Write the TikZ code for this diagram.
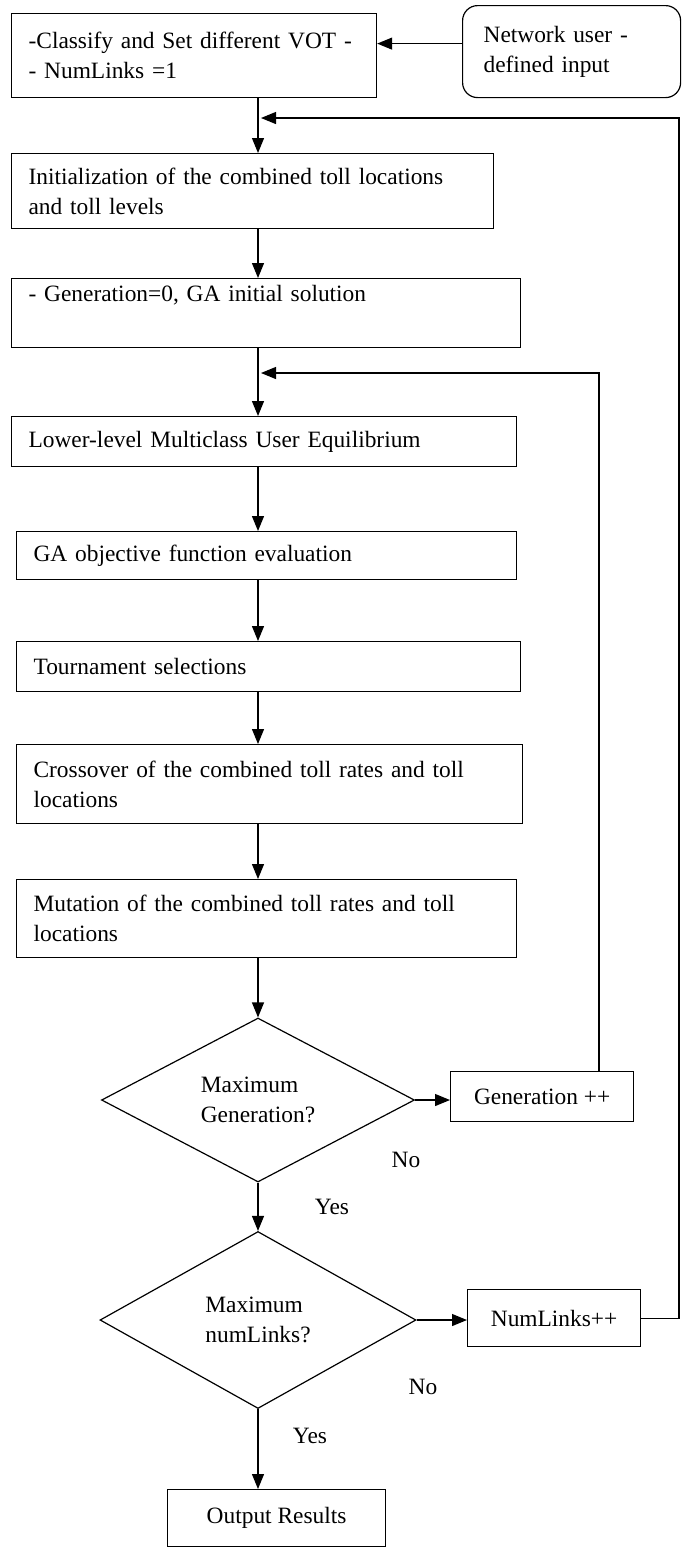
\documentclass[tikz,border=0pt]{standalone}
\usepackage{fontspec}
\setmainfont{Liberation Serif}
\usetikzlibrary{positioning,shapes,arrows.meta}

\begin{document}
\begin{tikzpicture}[x=0.5pt, y=-0.5pt, font=\fontsize{11.7}{15}\selectfont]
    \tikzstyle{process} = [rectangle, draw, line width=0.6pt, anchor=north west, align=left, inner xsep=8.5pt, inner ysep=0pt]
    \tikzstyle{counter} = [rectangle, draw, line width=0.6pt, anchor=north west, align=center]
    \tikzstyle{decision} = [diamond, draw, line width=0.6pt, align=left, inner sep=0pt]
    \tikzstyle{answer} = [inner sep=0pt]
    \tikzstyle{line} = [draw, line width=0.6pt, -{Triangle[length=7.5pt,width=6pt]}]

    \useasboundingbox (0,0) rectangle (681,1548);
    \coordinate (spine) at (258,0);

    % Process steps
    \node [process, text width=165.5pt, minimum height=42pt] (classify) at (11,13) {-Classify and Set different VOT -\\- NumLinks =1};
    \node [process, rounded corners=7.5pt, text width=88pt, inner xsep=10.5pt, minimum height=46pt] (network) at (462,5) {Network user -\\defined input};
    \node [process, text width=224pt, minimum height=37.5pt] (init) at (11,153) {Initialization of the combined toll locations\\and toll levels};
    \node [process, text width=237.5pt, minimum height=34.5pt] (gen0) at (11,278) {- Generation=0, GA initial solution\\\strut};
    \node [process, text width=235.5pt, minimum height=25pt] (lower) at (11,416) {Lower-level Multiclass User Equilibrium};
    \node [process, text width=233pt, minimum height=24pt] (gaobj) at (16,531) {GA objective function evaluation};
    \node [process, text width=235pt, minimum height=25pt] (tourn) at (16,641) {Tournament selections};
    \node [process, text width=236pt, minimum height=39.5pt] (cross) at (16,744) {Crossover of the combined toll rates and toll\\locations};
    \node [process, text width=233pt, minimum height=39pt] (mut) at (16,879) {Mutation of the combined toll rates and toll\\locations};

    % Decisions
    \node [decision, minimum width=156.5pt, minimum height=82pt] (maxgen) at (258,1100) {Maximum\\Generation?};
    \node [counter, minimum width=91.5pt, minimum height=25pt] (genpp) at (450,1071) {Generation ++};
    \node [decision, minimum width=158pt, minimum height=88.5pt] (maxlinks) at (258,1320) {Maximum\\numLinks?};
    \node [counter, minimum width=86.5pt, minimum height=28.5pt] (linkspp) at (467,1289) {NumLinks++};
    \node [counter, minimum width=109pt, minimum height=28.5pt] (output) at (167,1489) {Output Results};

    % Branch labels
    \node [answer] (no1) at (406,1160) {No};
    \node [answer] (yes1) at (332,1207) {Yes};
    \node [answer] (no2) at (423,1387) {No};
    \node [answer] (yes2) at (310,1436) {Yes};

    % Arrows
    \draw [line] ([yshift=4pt]network.west) -- ([yshift=4pt]network.west -| classify.east);
    \draw [line] (classify.south -| spine) -- (init.north -| spine);
    \draw [line] (init.south -| spine) -- (gen0.north -| spine);
    \draw [line] (gen0.south -| spine) -- (lower.north -| spine);
    \draw [line] (lower.south -| spine) -- (gaobj.north -| spine);
    \draw [line] (gaobj.south -| spine) -- (tourn.north -| spine);
    \draw [line] (tourn.south -| spine) -- (cross.north -| spine);
    \draw [line] (cross.south -| spine) -- (mut.north -| spine);
    \draw [line] (mut.south -| spine) -- (maxgen.north);
    \draw [line] (maxgen.south) -- (maxlinks.north);
    \draw [line] (maxlinks.south) -- (output.north -| spine);
    \draw [line] (maxgen.east) -- (maxgen.east -| genpp.west);
    \draw [line] (maxlinks.east) -- (maxlinks.east -| linkspp.west);

    % Loops back
    \coordinate (gloop) at (599,373);
    \coordinate (gin) at (261,373);
    \draw [line] (genpp.north -| gloop) -- (gloop) -- (gin);
    \coordinate (lloop) at (679,118);
    \coordinate (lin) at (261,118);
    \draw [line] (linkspp.east) -| (lloop) -- (lin);
\end{tikzpicture}
\end{document}
